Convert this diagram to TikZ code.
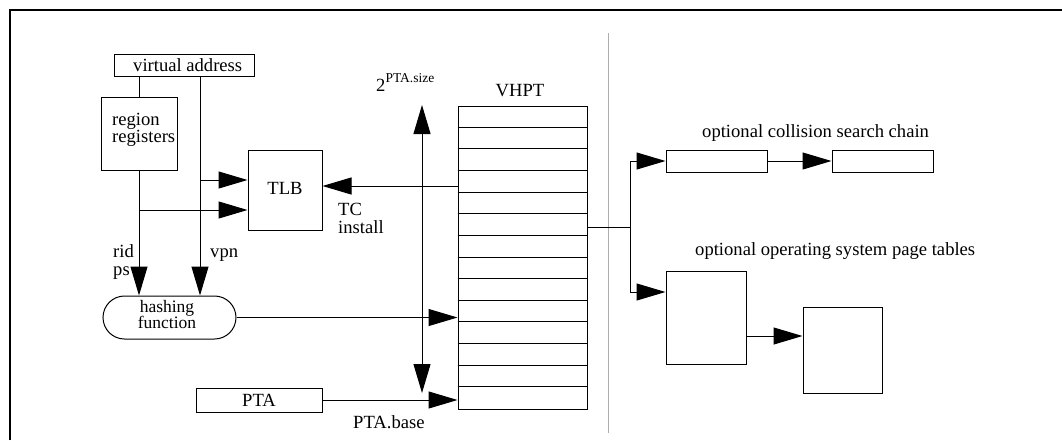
\documentclass[tikz,border=0pt]{standalone}
\usepackage{fontspec}
\setmainfont{Liberation Serif}
\usetikzlibrary{arrows.meta,calc,fit}
\definecolor{sepgray}{gray}{0.68}
\tikzset{
  lw/.style={line width=1pt},
  box/.style={draw, line width=1pt, inner sep=0pt, fit={#1}},
  lbl/.style={anchor=base west, inner sep=0pt},
  ctr/.style={anchor=base, inner sep=0pt},
  >={Triangle[length=29pt,width=17pt]}
}
\begin{document}
\begin{tikzpicture}[x=1pt,y=-1pt,
  every node/.append style={font=\fontsize{18.6}{18}\selectfont}]
\useasboundingbox (0,0) rectangle (1062,440);
% frame
\draw[line width=2pt] (10,440) -- (10,9.5) -- (1062,9.5);
% separator
\draw[sepgray, line width=1pt] (608,33) -- (608,433);

% boxes
\node[box={(114,54) (254,76)}] (va) {};
\node[lbl] (vat) at (133,71) {virtual address};
\node[box={(101,97) (177,170)}] (rr) {};
\node[lbl] (rr1) at (112,125) {region};
\node[lbl] (rr2) at (112,142) {registers};
\node[box={(248,150) (322,230)}] (tlb) {};
\node[ctr] (tlbt) at (285,194) {TLB};
\node[draw, lw, rounded corners=21.5pt, inner sep=0pt, fit={(103,296) (236,339)}] (hash) {};
\node[ctr, font=\fontsize{17.5}{16}\selectfont] (h1) at (167,312) {hashing};
\node[ctr, font=\fontsize{17.5}{16}\selectfont] (h2) at (167,328.5) {function};
\node[box={(196,388) (322,412)}] (pta) {};
\node[ctr] (ptat) at (259,406) {PTA};
\node[box={(458,106) (587,409)}] (vhpt) {};
\foreach \i in {1,...,13}
  \draw[lw] ($(vhpt.north west)+(0,\i*21.643)$) -- ($(vhpt.north east)+(0,\i*21.643)$);
\node[ctr] (vhptt) at (520,96) {VHPT};
\node[lbl] (size) at (376,91) {2{\fontsize{13.5}{14}\selectfont\raisebox{9pt}{PTA.size}}};
\node[box={(666,150) (767,172)}] (cc1) {};
\node[box={(832,150) (933,172)}] (cc2) {};
\node[lbl] (cct) at (702,137) {optional collision search chain};
\node[box={(666,271) (746,364)}] (os1) {};
\node[box={(803,307) (882,393)}] (os2) {};
\node[lbl] (ost) at (695,255) {optional operating system page tables};

% labels
\node[lbl] (rid) at (113,257) {rid};
\node[lbl] (ps) at (113,275) {ps};
\node[lbl] (vpnt) at (210,257) {vpn};
\node[lbl] (tc) at (338,215) {TC};
\node[lbl] (inst) at (338,233) {install};
\node[lbl] (ptab) at (353,428) {PTA.base};

% connectors
\draw[lw] (rr.north |- va.south) -- (rr.north);
\coordinate (vpn) at (200,76);
\draw[lw,->] (vpn) -- (vpn |- hash.north);
\draw[lw,->] (rr.south) -- (rr.south |- hash.north);
\coordinate (a1) at (201,180);
\draw[lw,->] (a1) -- (a1 -| tlb.west);
\coordinate (a2) at (139,210);
\draw[lw,->] (a2) -- (a2 -| tlb.west);
\coordinate (tci) at (458,186);
\draw[lw,->] (tci) -- (tci -| tlb.east);
\draw[lw,->] (hash.east) -- (hash.east -| vhpt.west);
\draw[lw,->] (pta.east) -- (pta.east -| vhpt.west);
\coordinate (s1) at (422,105);
\coordinate (s2) at (422,393);
\draw[lw,<->] (s1) -- (s2);
\coordinate (br) at (630,227);
\coordinate (bt) at (630,161);
\coordinate (bb) at (630,292);
\draw[lw] (vhpt.east |- br) -- (br);
\draw[lw] (bt) -- (bb);
\draw[lw,->] (bt) -- (bt -| cc1.west);
\draw[lw,->] (bb) -- (bb -| os1.west);
\draw[lw,->] (cc1.east) -- (cc2.west);
\coordinate (o1) at (746,336);
\draw[lw,->] (o1) -- (o1 -| os2.west);
\end{tikzpicture}
\end{document}
